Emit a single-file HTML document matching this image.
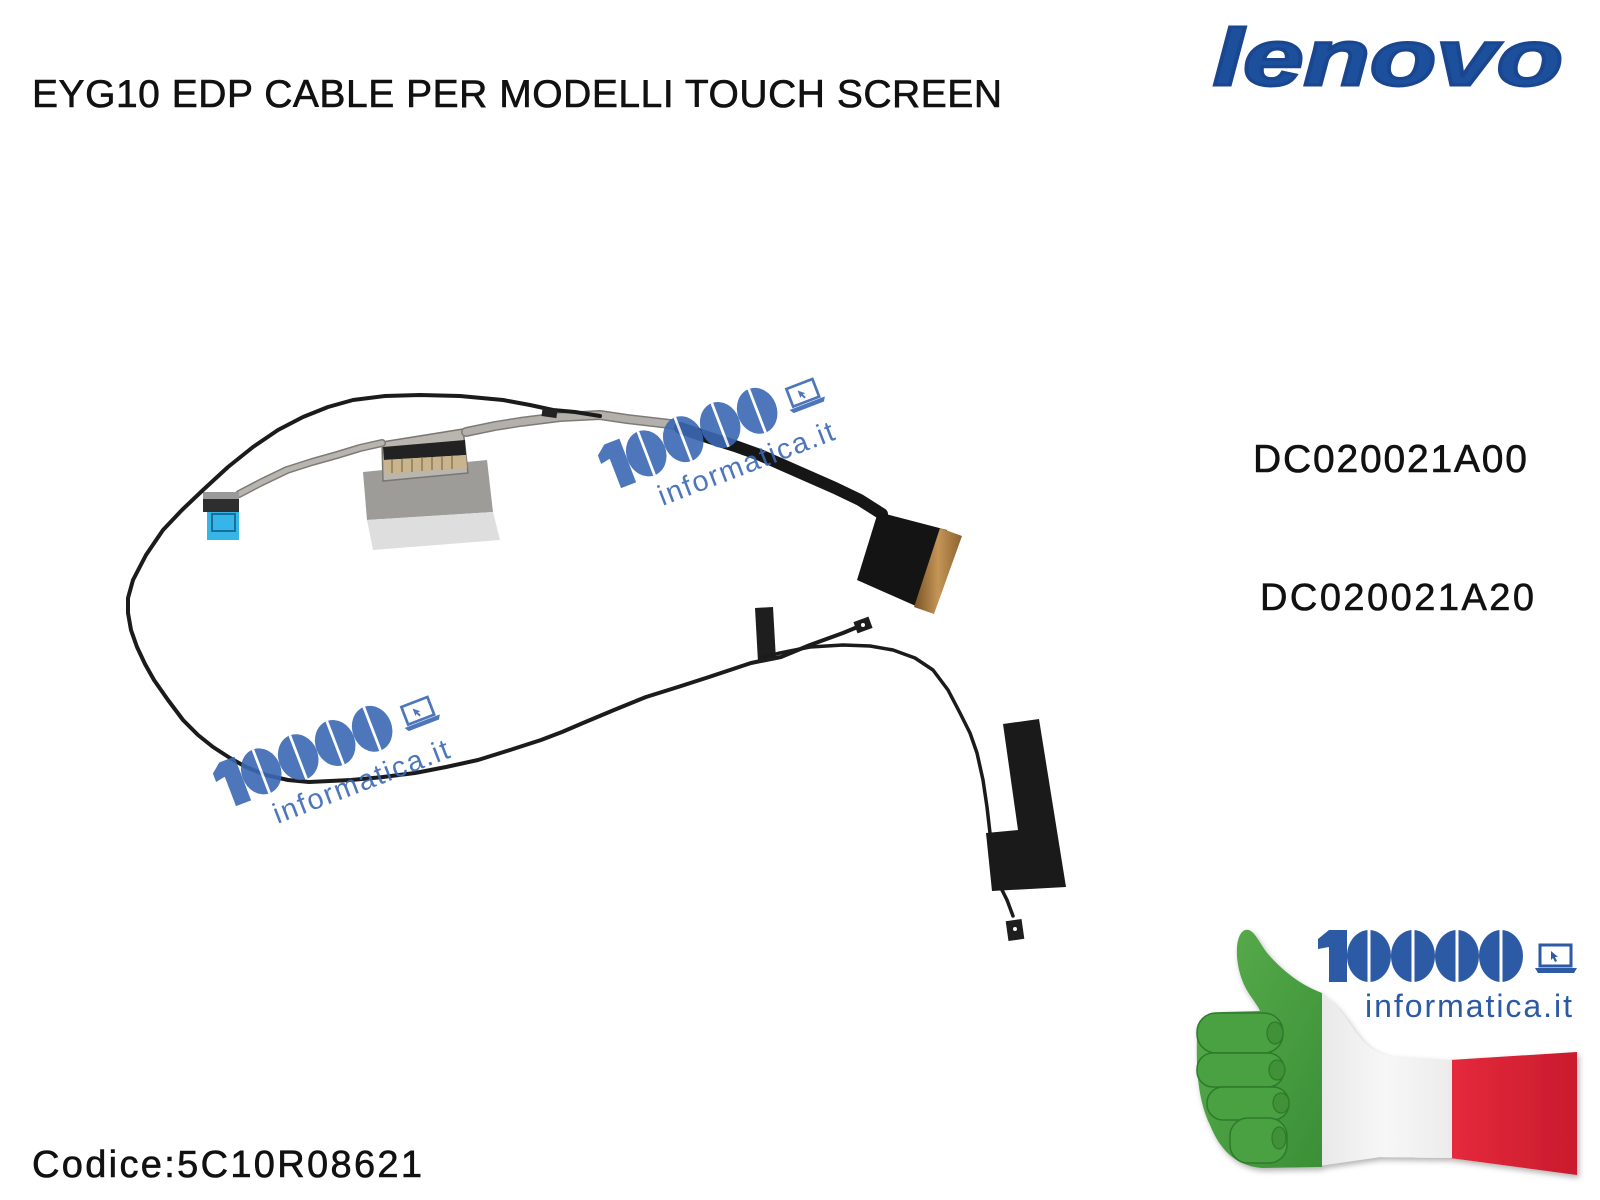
<!DOCTYPE html>
<html><head><meta charset="utf-8">
<style>
html,body{margin:0;padding:0;background:#fff;}
svg{display:block;}
</style></head>
<body>
<svg width="1600" height="1200" viewBox="0 0 1600 1200" xmlns="http://www.w3.org/2000/svg">
<defs>
<filter id="sh" x="-10%" y="-10%" width="130%" height="130%"><feDropShadow dx="2" dy="3" stdDeviation="3" flood-color="#000" flood-opacity="0.3"/></filter>
<linearGradient id="red" x1="0" y1="0" x2="1" y2="0"><stop offset="0" stop-color="#e52a3c"/><stop offset="1" stop-color="#c91b2d"/></linearGradient>
<linearGradient id="wht" x1="0" y1="0" x2="1" y2="0"><stop offset="0" stop-color="#e8e8e8"/><stop offset="0.5" stop-color="#f7f7f7"/><stop offset="1" stop-color="#ececec"/></linearGradient>
<linearGradient id="grn" x1="0" y1="0" x2="1" y2="1"><stop offset="0" stop-color="#5aae4c"/><stop offset="1" stop-color="#3a8f37"/></linearGradient>
<linearGradient id="gold" x1="0" y1="0" x2="1" y2="0"><stop offset="0" stop-color="#7a5226"/><stop offset="0.5" stop-color="#c49556"/><stop offset="1" stop-color="#8c6230"/></linearGradient>
</defs>

<rect width="1600" height="1200" fill="#fff"/>

<!-- Texts -->
<text x="32" y="107" font-family="Liberation Sans, sans-serif" font-size="39" textLength="970" lengthAdjust="spacing" fill="#111" stroke="#111" stroke-width="0.6">EYG10 EDP CABLE PER MODELLI TOUCH SCREEN</text>
<text x="1253" y="472" font-family="Liberation Sans, sans-serif" font-size="39" textLength="274" lengthAdjust="spacing" fill="#111" stroke="#111" stroke-width="0.6">DC020021A00</text>
<text x="1260" y="610" font-family="Liberation Sans, sans-serif" font-size="38" textLength="274" lengthAdjust="spacing" fill="#111" stroke="#111" stroke-width="0.6">DC020021A20</text>
<text x="32" y="1177" font-family="Liberation Sans, sans-serif" font-size="38" textLength="390" lengthAdjust="spacing" fill="#111" stroke="#111" stroke-width="0.6">Codice:5C10R08621</text>

<!-- Lenovo logo -->
<text x="1213" y="85" font-family="Liberation Sans, sans-serif" font-weight="bold" font-style="italic" font-size="80" textLength="350" lengthAdjust="spacingAndGlyphs" fill="#1c4f9c" stroke="#1a4690" stroke-width="3">lenovo</text>

<!-- Grey tape + big connector -->
<polygon points="363,472 487,460 493,512 367,520" fill="#9e9c98"/>
<polygon points="367,520 493,512 500,540 373,550" fill="#dedede"/>
<polygon points="382,442 463,429 468,473 383,481" fill="#b9b5af" stroke="#7a7670" stroke-width="1.5"/>
<polygon points="383,447 465,440 466,455 384,460" fill="#222"/>
<polygon points="384,460 466,455 467,468 385,474" fill="#c9b48d"/>
<g stroke="#6d5f45" stroke-width="1">
<line x1="392" y1="460" x2="392" y2="473"/><line x1="402" y1="459" x2="402" y2="472"/><line x1="412" y1="459" x2="412" y2="472"/><line x1="422" y1="458" x2="422" y2="471"/><line x1="432" y1="457" x2="432" y2="470"/><line x1="442" y1="457" x2="442" y2="470"/><line x1="452" y1="456" x2="452" y2="469"/>
</g>

<!-- Grey cables -->
<polyline points="239,494 262,482 287,470 312,462 337,455 360,448 382,443" fill="none" stroke="#7e7b77" stroke-width="8" stroke-linecap="round" stroke-linejoin="round"/>
<polyline points="239,494 262,482 287,470 312,462 337,455 360,448 382,443" fill="none" stroke="#b8b5b1" stroke-width="5" stroke-linecap="round" stroke-linejoin="round"/>
<polyline points="466,432 495,426 520,422 560,417 600,415 627,419 670,424 692,431" fill="none" stroke="#7e7b77" stroke-width="10" stroke-linecap="round" stroke-linejoin="round"/>
<polyline points="466,432 495,426 520,422 560,417 600,415 627,419 670,424 692,431" fill="none" stroke="#b3b0ab" stroke-width="7" stroke-linecap="round" stroke-linejoin="round"/>

<!-- Black EDP cable -->
<polyline points="680,428 710,438 735,446 760,455 785,466 810,477 835,488 860,500 882,514" fill="none" stroke="#161616" stroke-width="12" stroke-linecap="round" stroke-linejoin="round"/>
<polygon points="878,512 947,530 927,611 857,580" fill="#141414"/>
<polygon points="940,528 962,536 934,614 914,607" fill="url(#gold)"/>

<!-- Small left connector -->
<rect x="203" y="492" width="36" height="20" fill="#2e2e2e"/>
<rect x="203" y="492" width="36" height="7" fill="#9a9a9a"/>
<rect x="207" y="512" width="32" height="28" fill="#36b5e8"/>
<rect x="212" y="514" width="23" height="17" fill="none" stroke="#1a6e99" stroke-width="2"/>

<!-- Black loop cable -->
<polyline points="600,416 575,412 553,410 530,405 503,400 460,396 420,395 385,396 353,400 328,407 303,417 278,430 253,447 228,467 203,490 182,510 163,530 146,555 133,580 128,598 128,613 131,630 137,647 145,664 154,680 168,700 183,720 198,735 213,747 230,758 246,767 266,775 288,780 309,782 330,781 351,780 383,777 415,773 446,767 478,760 510,750 541,740 562,732 583,723 614,710 646,697 678,687 709,677 730,670 751,663 781,657 810,645 843,633 860,626" fill="none" stroke="#1b1b1b" stroke-width="4" stroke-linecap="round" stroke-linejoin="round"/>
<rect x="542" y="409" width="15" height="8" fill="#222" transform="rotate(8 549 413)"/>

<!-- Tab -->
<polygon points="755,608 773,607 776,660 758,662" fill="#1e1e1e"/>

<!-- Antenna cable -->
<polyline points="760,658 780,653 810,647 843,645 870,646 893,650 915,658 933,670 948,690 960,713 970,733 977,753 983,780 987,807 990,833" fill="none" stroke="#1b1b1b" stroke-width="3.5" stroke-linecap="round" stroke-linejoin="round"/>
<polyline points="1000,886 1007,900 1013,916" fill="none" stroke="#1b1b1b" stroke-width="3.5" stroke-linecap="round"/>
<rect x="855" y="619" width="16" height="12" fill="#1e1e1e" transform="rotate(-20 863 625)"/>
<circle cx="863" cy="625" r="2" fill="#fff"/>
<rect x="1007" y="920" width="16" height="20" fill="#1e1e1e" transform="rotate(-8 1015 930)"/>
<circle cx="1015" cy="929" r="2" fill="#fff"/>

<!-- Antenna -->
<polygon points="1003,724 1039,719 1066,887 992,891 986,833 1018,830" fill="#1a1a1a"/>

<!-- Watermark 1 -->
<g transform="translate(595,448) rotate(-21) scale(0.9)" opacity="0.9" fill="#3a69b3">
 <polygon points="0,9 11,0 29,0 29,52 11,52 11,17 0,19"/>
 <ellipse cx="51" cy="26" rx="22" ry="26"/>
 <ellipse cx="95" cy="26" rx="22" ry="26"/>
 <ellipse cx="139" cy="26" rx="22" ry="26"/>
 <ellipse cx="183" cy="26" rx="22" ry="26"/>
 <g stroke="#fff" stroke-width="3">
  <line x1="51" y1="0" x2="51" y2="52"/><line x1="95" y1="0" x2="95" y2="52"/><line x1="139" y1="0" x2="139" y2="52"/><line x1="183" y1="0" x2="183" y2="52"/>
 </g>
 <rect x="222" y="15" width="31" height="21" fill="#fff" stroke="#3a69b3" stroke-width="3"/>
 <polygon points="217,38 259,38 256,43 220,43"/>
 <polygon points="233,21 240,27 237,27 239,31 237,32 235,28 233,30"/>
 <text x="47" y="87" font-family="Liberation Sans, sans-serif" font-size="32" textLength="207" lengthAdjust="spacing">informatica.it</text>
</g>

<!-- Watermark 2 -->
<g transform="translate(210,766) rotate(-21) scale(0.9)" opacity="0.9" fill="#3a69b3">
 <polygon points="0,9 11,0 29,0 29,52 11,52 11,17 0,19"/>
 <ellipse cx="51" cy="26" rx="22" ry="26"/>
 <ellipse cx="95" cy="26" rx="22" ry="26"/>
 <ellipse cx="139" cy="26" rx="22" ry="26"/>
 <ellipse cx="183" cy="26" rx="22" ry="26"/>
 <g stroke="#fff" stroke-width="3">
  <line x1="51" y1="0" x2="51" y2="52"/><line x1="95" y1="0" x2="95" y2="52"/><line x1="139" y1="0" x2="139" y2="52"/><line x1="183" y1="0" x2="183" y2="52"/>
 </g>
 <rect x="222" y="15" width="31" height="21" fill="#fff" stroke="#3a69b3" stroke-width="3"/>
 <polygon points="217,38 259,38 256,43 220,43"/>
 <polygon points="233,21 240,27 237,27 239,31 237,32 235,28 233,30"/>
 <text x="47" y="87" font-family="Liberation Sans, sans-serif" font-size="32" textLength="207" lengthAdjust="spacing">informatica.it</text>
</g>

<!-- Thumbs up hand -->
<g filter="url(#sh)">
 <path d="M1450,1060 L1577,1052 L1577,1175 L1450,1158 Z" fill="url(#red)"/>
 <path d="M1318,993 C1332,999 1342,1012 1352,1027 C1362,1042 1372,1052 1388,1056 L1452,1060 L1452,1158 L1380,1157 L1318,1166 Z" fill="url(#wht)"/>
 <path d="M1322,993 C1300,985 1282,970 1268,954 C1260,944 1256,933 1249,930 C1242,928 1238,936 1237,947 C1236,962 1240,982 1252,998 C1256,1004 1259,1008 1260,1011 L1222,1012 C1206,1013 1198,1024 1197,1036 C1196,1070 1198,1100 1210,1125 C1220,1150 1236,1166 1262,1168 L1322,1167 Z" fill="url(#grn)"/>
 <g fill="#4aa143" stroke="#2e7a2c" stroke-width="1.5">
  <rect x="1197" y="1013" width="86" height="40" rx="19"/>
  <rect x="1197" y="1053" width="87" height="34" rx="16"/>
  <rect x="1207" y="1087" width="82" height="33" rx="16"/>
  <rect x="1230" y="1118" width="57" height="45" rx="18"/>
 </g>
 <g fill="#3f9139" stroke="#2e7a2c" stroke-width="1.2">
  <ellipse cx="1275" cy="1033" rx="8" ry="11"/>
  <ellipse cx="1277" cy="1070" rx="8" ry="10"/>
  <ellipse cx="1281" cy="1103" rx="8" ry="10"/>
  <ellipse cx="1279" cy="1138" rx="7" ry="11"/>
 </g>
</g>

<!-- Bottom-right logo -->
<g transform="translate(1318,930)" fill="#2c5aa5">
 <polygon points="0,9 11,0 29,0 29,52 11,52 11,17 0,19"/>
 <ellipse cx="51" cy="26" rx="22" ry="26"/>
 <ellipse cx="95" cy="26" rx="22" ry="26"/>
 <ellipse cx="139" cy="26" rx="22" ry="26"/>
 <ellipse cx="183" cy="26" rx="22" ry="26"/>
 <g stroke="#fff" stroke-width="3">
  <line x1="51" y1="0" x2="51" y2="52"/><line x1="95" y1="0" x2="95" y2="52"/><line x1="139" y1="0" x2="139" y2="52"/><line x1="183" y1="0" x2="183" y2="52"/>
 </g>
 <rect x="222" y="15" width="31" height="21" fill="#fff" stroke="#2c5aa5" stroke-width="3"/>
 <polygon points="217,38 259,38 256,43 220,43"/>
 <polygon points="233,21 240,27 237,27 239,31 237,32 235,28 233,30"/>
 <text x="47" y="87" font-family="Liberation Sans, sans-serif" font-size="32" textLength="207" lengthAdjust="spacing">informatica.it</text>
</g>
</svg>
</body></html>
